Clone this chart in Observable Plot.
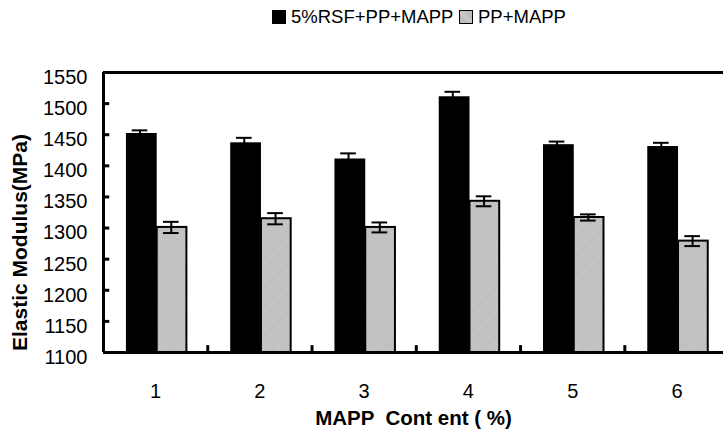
<!DOCTYPE html>
<html>
<head>
<meta charset="utf-8">
<script src="https://cdn.jsdelivr.net/npm/d3@7"></script>
<script src="https://cdn.jsdelivr.net/npm/@observablehq/plot@0.6"></script>
<style>
  html, body { margin: 0; padding: 0; background: #fff; }
  body { width: 723px; height: 438px; position: relative; overflow: hidden; font-family: "Liberation Sans", Arial, sans-serif; }
  #legend { position: absolute; left: 0; top: 0; width: 723px; height: 45px; }
  .sw { position: absolute; top: 10px; width: 14px; height: 14px; box-sizing: border-box; }
  .lt { position: absolute; top: 6px; font-size: 18.5px; line-height: 22px; color: #000; white-space: pre; }
  #chart { position: absolute; left: 0; top: 45px; }
</style>
</head>
<body>
<div id="legend"></div>
<div id="chart"></div>
<script>
// ---- data ----
const contents = [1, 2, 3, 4, 5, 6];
const seriesNames = ["5%RSF+PP+MAPP", "PP+MAPP"];
const rsfValues = [1452, 1437, 1411, 1511, 1434, 1431];
const rsfErrors = [5, 8, 9, 8, 5, 6];
const ppValues = [1301, 1315, 1301, 1343, 1317, 1279];
const ppErrors = [9, 9, 8, 8, 5, 8];
const yTicks = [1100, 1150, 1200, 1250, 1300, 1350, 1400, 1450, 1500, 1550];
const xTitle = "MAPP  Cont ent ( %)";
const yTitle = "Elastic Modulus(MPa)";

const rsf = contents.map((c, i) => ({g: c, v: rsfValues[i], e: rsfErrors[i]}));
const pp = contents.map((c, i) => ({g: c, v: ppValues[i], e: ppErrors[i]}));
const yMin = yTicks[0], yMax = yTicks[yTicks.length - 1];
const bounds = contents.map(c => c + 0.5);

// legend (HTML above the svg)
const legend = document.getElementById("legend");
legend.innerHTML = `
  <div class="sw" style="left:272px;background:#000;"></div>
  <div class="lt" style="left:291px;">${seriesNames[0]}</div>
  <div class="sw" style="left:459px;border:1px solid #000;background:repeating-linear-gradient(45deg,#b4b4b4 0 1px,#d0d0d0 1px 2px);"></div>
  <div class="lt" style="left:478px;">${seriesNames[1]}</div>`;

const cap = 0.075;
const plot = Plot.plot({
  width: 723,
  height: 393,
  marginLeft: 103,
  marginRight: 0,
  marginTop: 27,
  marginBottom: 86,
  style: {fontFamily: "Liberation Sans, Arial, sans-serif", fontSize: "20px", color: "#000", background: "#fff"},
  x: {type: "linear", domain: [0.5, 6.5], range: [103, 728.6]},
  y: {domain: [yMin, yMax]},
  marks: [
    Plot.rect(rsf, {x1: d => d.g - 0.28, x2: d => d.g + 0.015, y1: yMin, y2: "v", fill: "#000"}),
    Plot.rect(pp, {x1: d => d.g + 0.015, x2: d => d.g + 0.30, y1: yMin, y2: "v", fill: "url(#hatchGray)", stroke: "#000", strokeWidth: 2}),
    // error bars
    Plot.ruleX(rsf, {x: d => d.g - 0.15, y1: d => d.v - d.e, y2: d => d.v + d.e, stroke: "#000", strokeWidth: 2}),
    Plot.ruleY(rsf, {y: d => d.v + d.e, x1: d => d.g - 0.15 - cap, x2: d => d.g - 0.15 + cap, stroke: "#000", strokeWidth: 2}),
    Plot.ruleY(rsf, {y: d => d.v - d.e, x1: d => d.g - 0.15 - cap, x2: d => d.g - 0.15 + cap, stroke: "#000", strokeWidth: 2}),
    Plot.ruleX(pp, {x: d => d.g + 0.15, y1: d => d.v - d.e, y2: d => d.v + d.e, stroke: "#000", strokeWidth: 2}),
    Plot.ruleY(pp, {y: d => d.v + d.e, x1: d => d.g + 0.15 - cap, x2: d => d.g + 0.15 + cap, stroke: "#000", strokeWidth: 2}),
    Plot.ruleY(pp, {y: d => d.v - d.e, x1: d => d.g + 0.15 - cap, x2: d => d.g + 0.15 + cap, stroke: "#000", strokeWidth: 2}),
    // frame lines
    Plot.ruleY([yMin, yMax], {stroke: "#000", strokeWidth: 3}),
    Plot.ruleX([0.5], {y1: yMin, y2: yMax, stroke: "#000", strokeWidth: 3}),
    // inner tick marks
    Plot.ruleY(yTicks.slice(1, -1), {y: d => d, x1: 0.5, x2: 0.5 + 0.06, stroke: "#000", strokeWidth: 3}),
    Plot.ruleX(bounds, {x: d => d, y1: yMin, y2: yMin + 11, stroke: "#000", strokeWidth: 3}),
    // axis labels
    Plot.axisY(yTicks, {tickSize: 0, tickPadding: 16, dy: 5, fontSize: 20, label: null, tickFormat: d => String(d)}),
    Plot.axisX(contents, {tickSize: 0, tickPadding: 31, fontSize: 20, label: null, tickFormat: d => String(d)}),
    // titles
    Plot.text([xTitle], {frameAnchor: "bottom", dy: 66, fontSize: 20.5, fontWeight: "bold", lineAnchor: "middle", textAnchor: "middle"}),
    Plot.text([yTitle], {frameAnchor: "left", dx: -83, dy: 30, rotate: -90, fontSize: 21, fontWeight: "bold", lineAnchor: "middle", textAnchor: "middle"})
  ]
});

// fine hatch pattern for the grey bars
const ns = "http://www.w3.org/2000/svg";
const defs = document.createElementNS(ns, "defs");
defs.innerHTML = `<pattern id="hatchGray" width="2" height="2" patternUnits="userSpaceOnUse" patternTransform="rotate(45)">
  <rect width="2" height="2" fill="#d0d0d0"></rect>
  <line x1="0.5" y1="0" x2="0.5" y2="2" stroke="#b4b4b4" stroke-width="1"></line>
</pattern>`;
plot.insertBefore(defs, plot.firstChild);
plot.querySelectorAll("text").forEach(t => t.style.whiteSpace = "pre");
document.getElementById("chart").appendChild(plot);
</script>
</body>
</html>
